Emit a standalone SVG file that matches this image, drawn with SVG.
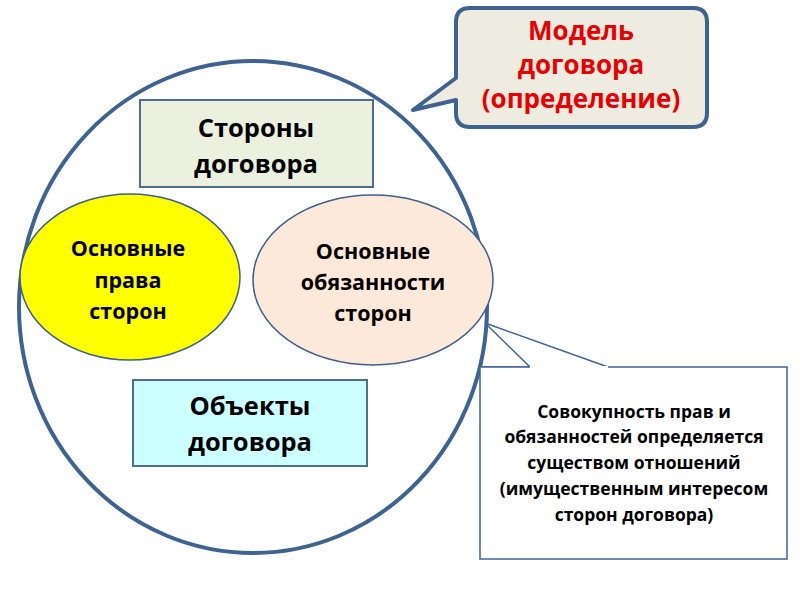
<svg xmlns="http://www.w3.org/2000/svg" width="800" height="600" viewBox="0 0 800 600">
<style>
text{font-family:"Open Sans","Noto Sans","Liberation Sans",sans-serif;font-weight:bold;text-anchor:middle;fill:#000}
.big{font-size:25.5px}
.mid{font-size:21.5px}
.sm{font-size:17.5px}
.red{fill:#E80000;font-size:26px}
.thin{stroke:#3F5F8A;stroke-width:1.5}
</style>
<rect width="800" height="600" fill="#fff"/>
<g id="big-circle">
<ellipse cx="253" cy="307" rx="234" ry="246" fill="#fff" stroke="#3F6391" stroke-width="4"/>
</g>
<g id="connectors">
<path d="M480 367 L608 367 L485 323 L530 367 Z" fill="#fff" stroke="#3F6391" stroke-width="1.5" stroke-linejoin="miter"/>
</g>
<g id="model-callout">
<path d="M470 8 H693 Q707 8 707 22 V113 Q707 127 693 127 H470 Q456 127 456 113 V100 L413 110 L456 78 V22 Q456 8 470 8 Z" fill="#EEECE1" stroke="#3F6391" stroke-width="4" stroke-linejoin="round"/>
<text class="red" x="581" y="40">Модель</text>
<text class="red" x="581" y="74">договора</text>
<text class="red" x="581" y="108">(определение)</text>
</g>
<g id="storony">
<rect x="140" y="100" width="233" height="87" fill="#EBF1DE" stroke="#4F6D8F" stroke-width="2"/>
<text class="big" x="256" y="137">Стороны</text>
<text class="big" x="256" y="173">договора</text>
</g>
<g id="prava">
<ellipse cx="130" cy="277" rx="110" ry="83" fill="#FFFF00" class="thin"/>
<text class="mid" x="128" y="256">Основные</text>
<text class="mid" x="128" y="288">права</text>
<text class="mid" x="128" y="319">сторон</text>
</g>
<g id="obyazannosti">
<ellipse cx="373" cy="280" rx="120" ry="85" fill="#FDE9D9" class="thin"/>
<text class="mid" x="373" y="259">Основные</text>
<text class="mid" x="373" y="290">обязанности</text>
<text class="mid" x="373" y="321">сторон</text>
</g>
<g id="obekty">
<rect x="133" y="380" width="234" height="86" fill="#CCFFFF" stroke="#4F6D8F" stroke-width="2"/>
<text class="big" x="250" y="415">Объекты</text>
<text class="big" x="250" y="451">договора</text>
</g>
<g id="note">
<rect x="480" y="367" width="307" height="192" fill="#fff" stroke="#3F6391" stroke-width="1.5"/>
<line x1="530" y1="367" x2="608" y2="367" stroke="#fff" stroke-width="2"/>
<text class="sm" x="634" y="418">Совокупность прав и</text>
<text class="sm" x="634" y="443">обязанностей определяется</text>
<text class="sm" x="634" y="469">существом отношений</text>
<text class="sm" x="634" y="495">(имущественным интересом</text>
<text class="sm" x="634" y="521">сторон договора)</text>
</g>
</svg>
